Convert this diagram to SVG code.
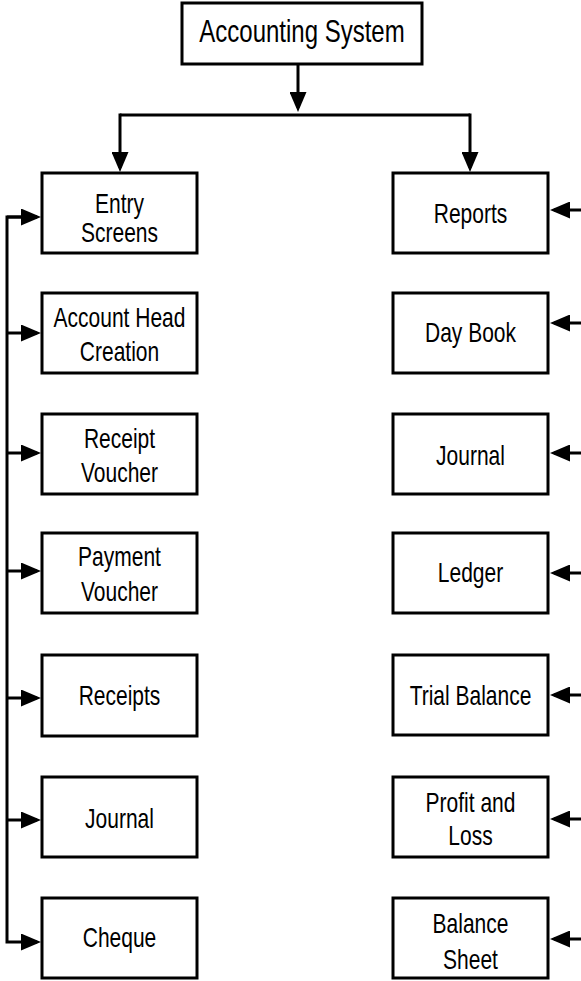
<svg xmlns="http://www.w3.org/2000/svg" width="581" height="981" viewBox="0 0 581 981">
<style>
.box{fill:#fff;stroke:#000;stroke-width:3}
.t{font-family:"Liberation Sans",Arial,sans-serif;font-size:28px;fill:#000;text-anchor:middle}
.tt{font-family:"Liberation Sans",Arial,sans-serif;font-size:32px;fill:#000;text-anchor:middle}
.c{fill:none;stroke:#000;stroke-width:3}
</style>
<defs>
<marker id="ah" markerUnits="userSpaceOnUse" markerWidth="20" markerHeight="17" refX="16" refY="8.5" orient="auto" viewBox="0 0 20 17">
<path d="M0,0 L20,8.5 L0,17 Z" fill="#000"/>
</marker>
</defs>
<rect width="581" height="981" fill="#fff"/>
<g id="connectors">
<line class="c" x1="298" y1="64" x2="298" y2="108" marker-end="url(#ah)"/>
<line class="c" x1="120" y1="115" x2="470" y2="115"/>
<line class="c" x1="120" y1="113.5" x2="120" y2="168" marker-end="url(#ah)"/>
<line class="c" x1="470" y1="113.5" x2="470" y2="168" marker-end="url(#ah)"/>
<polyline class="c" points="37,217 7,217 7,942 37,942" marker-end="url(#ah)"/>
<line class="c" x1="7" y1="217" x2="37" y2="217" marker-end="url(#ah)"/>
<line class="c" x1="7" y1="333" x2="37" y2="333" marker-end="url(#ah)"/>
<line class="c" x1="7" y1="453" x2="37" y2="453" marker-end="url(#ah)"/>
<line class="c" x1="7" y1="571" x2="37" y2="571" marker-end="url(#ah)"/>
<line class="c" x1="7" y1="698" x2="37" y2="698" marker-end="url(#ah)"/>
<line class="c" x1="7" y1="820" x2="37" y2="820" marker-end="url(#ah)"/>
<line class="c" x1="581" y1="210" x2="554" y2="210" marker-end="url(#ah)"/>
<line class="c" x1="581" y1="323" x2="554" y2="323" marker-end="url(#ah)"/>
<line class="c" x1="581" y1="453" x2="554" y2="453" marker-end="url(#ah)"/>
<line class="c" x1="581" y1="573" x2="554" y2="573" marker-end="url(#ah)"/>
<line class="c" x1="581" y1="695" x2="554" y2="695" marker-end="url(#ah)"/>
<line class="c" x1="581" y1="819" x2="554" y2="819" marker-end="url(#ah)"/>
<line class="c" x1="581" y1="939" x2="554" y2="939" marker-end="url(#ah)"/>
</g>
<g id="n-root">
<rect class="box" x="182" y="3" width="240" height="61"/>
<text class="tt" transform="translate(302 42) scale(0.75 1)">Accounting System</text>
</g>
<g id="n-entry">
<rect class="box" x="42" y="173" width="155" height="80"/>
<text class="t" transform="translate(119.5 213) scale(0.75 1)">Entry</text>
<text class="t" transform="translate(119.5 242) scale(0.75 1)">Screens</text>
</g>
<g id="n-account">
<rect class="box" x="42" y="293" width="155" height="80"/>
<text class="t" transform="translate(119.5 327) scale(0.75 1)">Account Head</text>
<text class="t" transform="translate(119.5 361) scale(0.75 1)">Creation</text>
</g>
<g id="n-receipt-voucher">
<rect class="box" x="42" y="414" width="155" height="80"/>
<text class="t" transform="translate(119.5 448) scale(0.75 1)">Receipt</text>
<text class="t" transform="translate(119.5 482) scale(0.75 1)">Voucher</text>
</g>
<g id="n-payment-voucher">
<rect class="box" x="42" y="533" width="155" height="80"/>
<text class="t" transform="translate(119.5 566) scale(0.75 1)">Payment</text>
<text class="t" transform="translate(119.5 601) scale(0.75 1)">Voucher</text>
</g>
<g id="n-receipts">
<rect class="box" x="42" y="655" width="155" height="81"/>
<text class="t" transform="translate(119.5 705) scale(0.75 1)">Receipts</text>
</g>
<g id="n-journal-left">
<rect class="box" x="42" y="777" width="155" height="80"/>
<text class="t" transform="translate(119.5 828) scale(0.75 1)">Journal</text>
</g>
<g id="n-cheque">
<rect class="box" x="42" y="898" width="155" height="80"/>
<text class="t" transform="translate(119.5 947) scale(0.75 1)">Cheque</text>
</g>
<g id="n-reports">
<rect class="box" x="393" y="173" width="155" height="80"/>
<text class="t" transform="translate(470.5 223) scale(0.75 1)">Reports</text>
</g>
<g id="n-daybook">
<rect class="box" x="393" y="293" width="155" height="80"/>
<text class="t" transform="translate(470.5 342) scale(0.75 1)">Day Book</text>
</g>
<g id="n-journal-right">
<rect class="box" x="393" y="414" width="155" height="80"/>
<text class="t" transform="translate(470.5 465) scale(0.75 1)">Journal</text>
</g>
<g id="n-ledger">
<rect class="box" x="393" y="533" width="155" height="80"/>
<text class="t" transform="translate(470.5 582) scale(0.75 1)">Ledger</text>
</g>
<g id="n-trial">
<rect class="box" x="393" y="655" width="155" height="80"/>
<text class="t" transform="translate(470.5 705) scale(0.75 1)">Trial Balance</text>
</g>
<g id="n-pl">
<rect class="box" x="393" y="777" width="155" height="80"/>
<text class="t" transform="translate(470.5 812) scale(0.75 1)">Profit and</text>
<text class="t" transform="translate(470.5 845) scale(0.75 1)">Loss</text>
</g>
<g id="n-bs">
<rect class="box" x="393" y="898" width="155" height="80"/>
<text class="t" transform="translate(470.5 933) scale(0.75 1)">Balance</text>
<text class="t" transform="translate(470.5 969) scale(0.75 1)">Sheet</text>
</g>
</svg>
